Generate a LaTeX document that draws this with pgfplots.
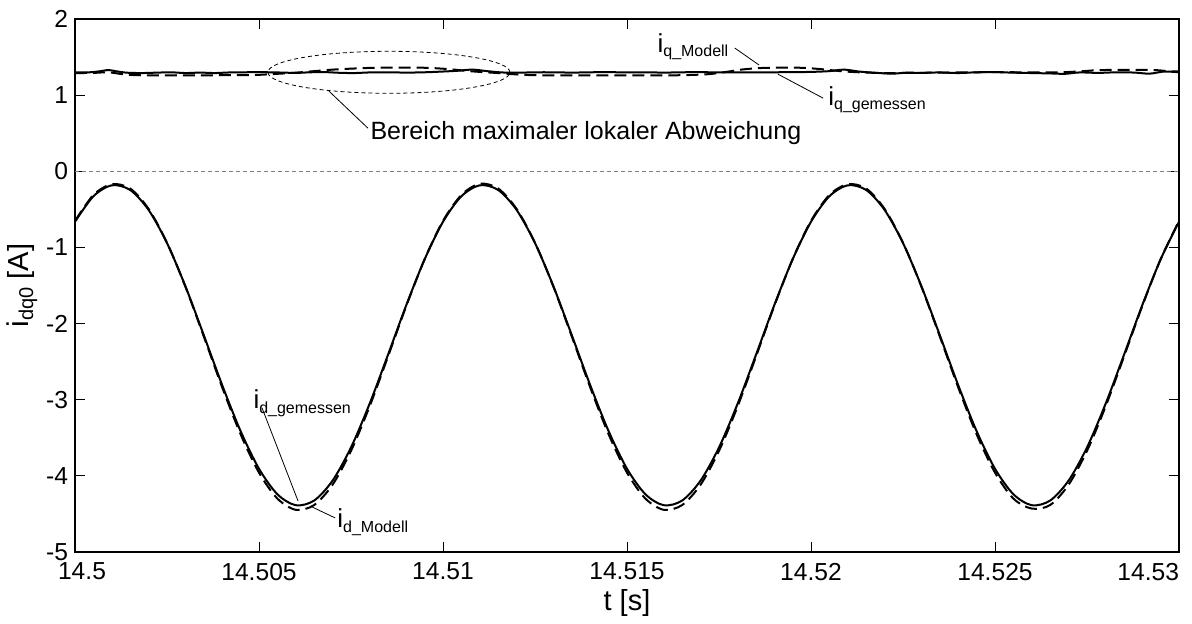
\documentclass[border=0pt]{standalone}
\usepackage{pgfplots}
\pgfplotsset{compat=1.18}
\usepackage{fontspec}
\setmainfont{Liberation Sans}
\newcommand{\lbl}[2]{{\fontsize{13}{14}\selectfont #1}\raisebox{-0.35ex}{\fontsize{8}{9}\selectfont #2}}

\begin{document}
\begin{tikzpicture}
\begin{axis}[
  scale only axis, width=552pt, height=266.5pt,
  xmin=14.5, xmax=14.53, ymin=-5, ymax=2,
  scaled x ticks=false,
  xtick={14.5,14.505,14.51,14.515,14.52,14.525,14.53},
  xticklabels={{\hspace*{7pt}14.5},14.505,14.51,14.515,14.52,14.525,\makebox[0pt][r]{14.53}},
  ytick={-5,-4,-3,-2,-1,0,1,2},
  tick align=inside, major tick length=5pt,
  tick style={black, line width=0.5pt},
  axis line style={black, line width=0.6pt},
  font=\fontsize{12.5}{14}\selectfont,
  ticklabel style={font=\fontsize{12.3}{14}\selectfont},
  xticklabel style={yshift=-2pt},
  /pgf/number format/assume math mode=true,
  xlabel={t [s]},
  ylabel={{\fontsize{15}{16}\selectfont i}\raisebox{-0.35ex}{\fontsize{10}{11}\selectfont dq0}\fontsize{14.5}{16}\selectfont{} [A]},
  xlabel style={font=\fontsize{14.5}{16}\selectfont, at={(axis description cs:0.5,-0.096)}, anchor=center},
  ylabel style={at={(axis description cs:-0.048,0.5)}, anchor=center},
  clip=true,
]
% zero line
\addplot[gray, line width=0.5pt, dash pattern=on 2pt off 1.5pt] coordinates {(14.5,0) (14.53,0)};

% i_d measured (solid)
\addplot[black, line width=1pt, smooth] coordinates {
(14.5000,-0.663) (14.5005,-0.328) (14.5010,-0.184) (14.5015,-0.246) (14.5020,-0.508)
(14.5025,-0.943) (14.5030,-1.510) (14.5035,-2.153) (14.5040,-2.809) (14.5045,-3.413)
(14.5050,-3.907) (14.5055,-4.242) (14.5060,-4.386) (14.5065,-4.324) (14.5070,-4.062)
(14.5075,-3.627) (14.5080,-3.060) (14.5085,-2.417) (14.5090,-1.761) (14.5095,-1.157)
(14.5100,-0.663) (14.5105,-0.328) (14.5110,-0.184) (14.5115,-0.246) (14.5120,-0.508)
(14.5125,-0.943) (14.5130,-1.510) (14.5135,-2.153) (14.5140,-2.809) (14.5145,-3.413)
(14.5150,-3.907) (14.5155,-4.242) (14.5160,-4.386) (14.5165,-4.324) (14.5170,-4.062)
(14.5175,-3.627) (14.5180,-3.060) (14.5185,-2.417) (14.5190,-1.761) (14.5195,-1.157)
(14.5200,-0.663) (14.5205,-0.328) (14.5210,-0.184) (14.5215,-0.246) (14.5220,-0.508)
(14.5225,-0.943) (14.5230,-1.510) (14.5235,-2.153) (14.5240,-2.809) (14.5245,-3.413)
(14.5250,-3.907) (14.5255,-4.242) (14.5260,-4.386) (14.5265,-4.324) (14.5270,-4.062)
(14.5275,-3.627) (14.5280,-3.060) (14.5285,-2.417) (14.5290,-1.761) (14.5295,-1.157)
(14.5300,-0.663)
};

% i_d model (dashed)
\addplot[black, line width=1pt, smooth, dash pattern=on 6pt off 3pt] coordinates {
(14.5000,-0.652) (14.5005,-0.311) (14.5010,-0.170) (14.5015,-0.227) (14.5020,-0.494)
(14.5025,-0.938) (14.5030,-1.515) (14.5035,-2.170) (14.5040,-2.838) (14.5045,-3.454)
(14.5050,-3.958) (14.5055,-4.299) (14.5060,-4.446) (14.5065,-4.383) (14.5070,-4.116)
(14.5075,-3.672) (14.5080,-3.095) (14.5085,-2.440) (14.5090,-1.772) (14.5095,-1.156)
(14.5100,-0.652) (14.5105,-0.311) (14.5110,-0.164) (14.5115,-0.227) (14.5120,-0.494)
(14.5125,-0.938) (14.5130,-1.515) (14.5135,-2.170) (14.5140,-2.838) (14.5145,-3.454)
(14.5150,-3.958) (14.5155,-4.299) (14.5160,-4.446) (14.5165,-4.383) (14.5170,-4.116)
(14.5175,-3.672) (14.5180,-3.095) (14.5185,-2.440) (14.5190,-1.772) (14.5195,-1.156)
(14.5200,-0.652) (14.5205,-0.311) (14.5210,-0.170) (14.5215,-0.227) (14.5220,-0.494)
(14.5225,-0.938) (14.5230,-1.515) (14.5235,-2.170) (14.5240,-2.838) (14.5245,-3.454)
(14.5250,-3.958) (14.5255,-4.299) (14.5260,-4.430) (14.5265,-4.383) (14.5270,-4.116)
(14.5275,-3.672) (14.5280,-3.095) (14.5285,-2.440) (14.5290,-1.772) (14.5295,-1.156)
(14.5300,-0.652)
};

% i_q measured (solid)
\addplot[black, line width=1pt, smooth] coordinates {
(14.5000,1.300) (14.5004,1.300) (14.5007,1.315) (14.5009,1.330) (14.5011,1.315)
(14.5014,1.295) (14.5018,1.290) (14.5022,1.295) (14.5026,1.300) (14.5030,1.290)
(14.5034,1.296) (14.5038,1.290) (14.5042,1.298) (14.5046,1.300) (14.5050,1.302)
(14.5055,1.298) (14.5060,1.292) (14.5064,1.300) (14.5068,1.302) (14.5072,1.293)
(14.5076,1.290) (14.5080,1.298) (14.5085,1.300) (14.5090,1.296) (14.5095,1.300)
(14.5100,1.310) (14.5104,1.320) (14.5108,1.335) (14.5112,1.315) (14.5116,1.298)
(14.5120,1.294) (14.5125,1.300) (14.5130,1.300) (14.5135,1.296) (14.5140,1.300)
(14.5145,1.302) (14.5150,1.298) (14.5155,1.300) (14.5160,1.296) (14.5165,1.300)
(14.5170,1.302) (14.5175,1.298) (14.5180,1.300) (14.5185,1.298) (14.5190,1.300)
(14.5195,1.302) (14.5200,1.305) (14.5205,1.315) (14.5209,1.335) (14.5213,1.310)
(14.5217,1.295) (14.5222,1.282) (14.5226,1.295) (14.5230,1.292) (14.5235,1.298)
(14.5240,1.290) (14.5245,1.300) (14.5250,1.302) (14.5255,1.295) (14.5260,1.290)
(14.5265,1.285) (14.5269,1.280) (14.5273,1.298) (14.5278,1.292) (14.5283,1.300)
(14.5288,1.296) (14.5292,1.282) (14.5296,1.310) (14.5300,1.300)
};

% i_q model (dashed)
\addplot[black, line width=1pt, smooth, dash pattern=on 6pt off 3pt] coordinates {
(14.5000,1.290) (14.5005,1.292) (14.5009,1.300) (14.5013,1.275) (14.5017,1.262)
(14.5025,1.258) (14.5034,1.260) (14.5042,1.262) (14.5049,1.265) (14.5055,1.280)
(14.5060,1.295) (14.5065,1.315) (14.5070,1.335) (14.5076,1.350) (14.5082,1.360)
(14.5090,1.362) (14.5096,1.358) (14.5102,1.340) (14.5106,1.320) (14.5110,1.305)
(14.5115,1.290) (14.5120,1.272) (14.5125,1.262) (14.5135,1.258) (14.5145,1.260)
(14.5155,1.258) (14.5165,1.262) (14.5172,1.275) (14.5177,1.305) (14.5181,1.335)
(14.5186,1.355) (14.5192,1.362) (14.5198,1.358) (14.5203,1.340) (14.5208,1.315)
(14.5213,1.300) (14.5220,1.290) (14.5227,1.292) (14.5235,1.296) (14.5245,1.300)
(14.5252,1.302) (14.5260,1.298) (14.5268,1.300) (14.5274,1.315) (14.5278,1.328)
(14.5285,1.332) (14.5293,1.330) (14.5297,1.315) (14.5300,1.310)
};

% annotations
\draw[black, line width=0.4pt, dash pattern=on 2pt off 1.5pt] (axis cs:14.50853,1.30) ellipse [x radius=60.5pt, y radius=10.5pt];
\draw[black, line width=0.4pt] (axis cs:14.50690,1.053) -- (axis cs:14.50796,0.566);
\node[anchor=base west, inner sep=0pt] at (axis cs:14.50802,0.421) {Bereich maximaler lokaler Abweichung};

\draw[black, line width=0.4pt] (axis cs:14.51793,1.618) -- (axis cs:14.51859,1.395);
\node[anchor=base west, inner sep=0pt] at (axis cs:14.51582,1.566) {\lbl{i}{q\_Modell}};

\draw[black, line width=0.4pt] (axis cs:14.51910,1.276) -- (axis cs:14.52033,0.96);
\node[anchor=base west, inner sep=0pt] at (axis cs:14.52046,0.868) {\lbl{i}{q\_gemessen}};

\draw[black, line width=0.4pt] (axis cs:14.50508,-3.105) -- (axis cs:14.50606,-4.329);
\node[anchor=base west, inner sep=0pt] at (axis cs:14.50484,-3.118) {\lbl{i}{d\_gemessen}};

\draw[black, line width=0.4pt] (axis cs:14.50644,-4.408) -- (axis cs:14.50707,-4.553);
\node[anchor=base west, inner sep=0pt] at (axis cs:14.50712,-4.684) {\lbl{i}{d\_Modell}};

\coordinate (bl) at (rel axis cs:0,0);
\coordinate (tr) at (rel axis cs:1,1);
\end{axis}
\path ([shift={(-37.5pt,-33pt)}]bl) rectangle ([shift={(6.5pt,9.5pt)}]tr);
\end{tikzpicture}
\end{document}
